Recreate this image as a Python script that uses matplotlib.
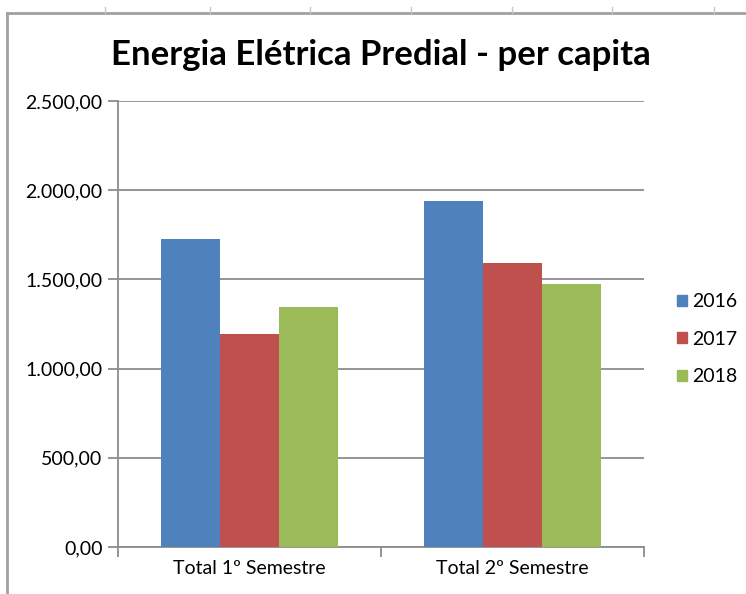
import matplotlib.pyplot as plt
from matplotlib.lines import Line2D
import numpy as np

categories = ['Total 1º Semestre', 'Total 2º Semestre']
years = ['2016', '2017', '2018']
values_2016 = [1726, 1941]
values_2017 = [1194, 1590]
values_2018 = [1347, 1474]
colors = ['#4F81BD', '#C0504D', '#9BBB59']

plt.rcParams['font.family'] = ['Lato', 'DejaVu Sans']

fig = plt.figure(figsize=(7.46, 5.94), dpi=100)
ax = fig.add_axes([0.158, 0.0791, 0.705, 0.751])

x = np.arange(len(categories))
width = 0.224
series = [values_2016, values_2017, values_2018]
for i, (vals, c, lab) in enumerate(zip(series, colors, years)):
    ax.bar(x + (i - 1) * width, vals, width, color=c, label=lab, zorder=3)

ax.set_xlim(-0.5, 1.5)
ax.set_ylim(0, 2500)
ax.set_yticks(np.arange(0, 2501, 500))
ax.set_yticklabels([f'{v:,.2f}'.replace(',', 'X').replace('.', ',').replace('X', '.')
                    for v in np.arange(0, 2501, 500)], fontsize=14)
ax.yaxis.grid(True, color='#8c8c8c', linewidth=1.3, zorder=0)

ax.set_xticks([-0.5, 0.5, 1.5], minor=False)
ax.set_xticklabels([])
ax.set_xticks(x, minor=True)
ax.set_xticklabels(categories, minor=True, fontsize=14)
ax.tick_params(axis='x', which='minor', length=0, pad=9)
ax.tick_params(axis='x', which='major', length=7, color='#8c8c8c', width=1.3)
ax.tick_params(axis='y', length=7, color='#8c8c8c', width=1.3, pad=4)

for s in ['top', 'right']:
    ax.spines[s].set_visible(False)
for s in ['left', 'bottom']:
    ax.spines[s].set_color('#8c8c8c')
    ax.spines[s].set_linewidth(1.3)

fig.text(0.511, 0.907, 'Energia Elétrica Predial - per capita', ha='center', va='center',
         fontsize=25, fontweight='bold')

handles = [plt.Rectangle((0, 0), 1, 1, color=c) for c in colors]
fig.legend(handles, years, loc='center left', bbox_to_anchor=(0.9075, 0.429), frameon=False,
           fontsize=14, handlelength=0.5, handleheight=0.5, handletextpad=0.3, labelspacing=1.06,
           borderpad=0, borderaxespad=0)

# chart area border
fig.add_artist(Line2D([0.0094, 0.0094], [0, 0.978], color='#a0a0a0', linewidth=2))
fig.add_artist(Line2D([0.0094, 1.0], [0.978, 0.978], color='#a0a0a0', linewidth=2))
for px in [105, 210, 310, 411, 512, 612, 714]:
    fig.add_artist(Line2D([px / 746, px / 746], [0.978, 0.988], color='#c8c8c8', linewidth=1))

fig.savefig('out.png', dpi=100)
